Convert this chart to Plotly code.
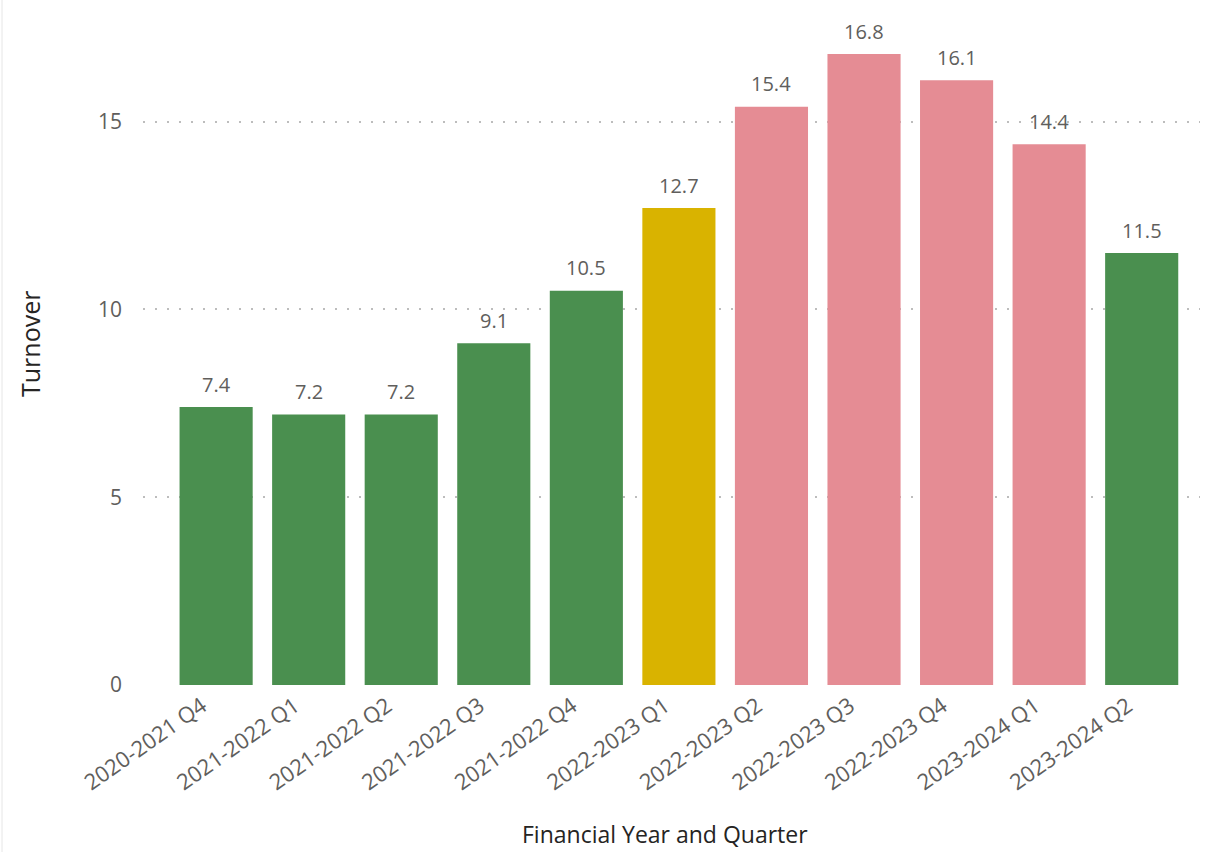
import plotly.graph_objects as go

categories = ["2020-2021 Q4", "2021-2022 Q1", "2021-2022 Q2", "2021-2022 Q3", "2021-2022 Q4",
              "2022-2023 Q1", "2022-2023 Q2", "2022-2023 Q3", "2022-2023 Q4", "2023-2024 Q1",
              "2023-2024 Q2"]
turnover = [7.4, 7.2, 7.2, 9.1, 10.5, 12.7, 15.4, 16.8, 16.1, 14.4, 11.5]
labels = ["7.4", "7.2", "7.2", "9.1", "10.5", "12.7", "15.4", "16.8", "16.1", "14.4", "11.5"]
status = ["green", "green", "green", "green", "green", "amber", "red", "red", "red", "red", "green"]
y_ticks = [0, 5, 10, 15]

palette = {"green": "#4A8F4F", "amber": "#D9B300", "red": "#E58C94"}
colors = [palette[s] for s in status]

font_family = "Segoe UI, Open Sans, DejaVu Sans, sans-serif"
title_family = "Open Sans, sans-serif"

fig = go.Figure(go.Bar(
    x=categories, y=turnover, marker=dict(color=colors, line=dict(width=0)),
    width=0.79, hoverinfo="x+y",
))

for c, v, t in zip(categories, turnover, labels):
    fig.add_annotation(x=c, y=v, text=t, showarrow=False, yanchor="middle", yshift=23,
                       font=dict(family=font_family, size=20, color="#605E5C"))

W, H = 1209, 852
L, R, T, B = 143, 9, 9, 167
pw, ph = W - L - R, H - T - B

fig.update_layout(
    width=W, height=H,
    margin=dict(l=L, r=R, t=T, b=B),
    paper_bgcolor="white", plot_bgcolor="white",
    showlegend=False,
    font=dict(family=font_family, color="#605E5C"),
    xaxis=dict(
        range=[-0.79, 10.63], tickangle=-35, showgrid=False, showline=False, zeroline=False,
        ticks="", tickfont=dict(size=22, color="#605E5C"),
        ticklabelshift=-14, ticklabelstandoff=3,
    ),
    yaxis=dict(
        range=[0, 18], tickvals=y_ticks, showgrid=True, gridcolor="#BDBDBD",
        griddash="2px,10px", gridwidth=1.5, zeroline=False, showline=False, ticks="",
        ticklabelstandoff=20,
        tickfont=dict(size=21, color="#605E5C"),
    ),
)

fig.add_annotation(xref="paper", yref="paper", x=(665 - L) / pw, y=(685 - 834) / ph,
                   xanchor="center", yanchor="middle", showarrow=False,
                   text="Financial Year and Quarter",
                   font=dict(family=title_family, size=23, color="#252423"))
fig.add_annotation(xref="paper", yref="paper", x=(30 - L) / pw, y=(685 - 344) / ph,
                   xanchor="center", yanchor="middle", showarrow=False, textangle=-90,
                   text="Turnover",
                   font=dict(family=title_family, size=25, color="#252423"))

fig.add_shape(type="line", xref="paper", yref="paper", x0=-(L - 2) / pw, x1=-(L - 2) / pw,
              y0=-B / ph, y1=1 + T / ph, line=dict(color="#E6E6E6", width=1))

fig.write_html("out.html")
